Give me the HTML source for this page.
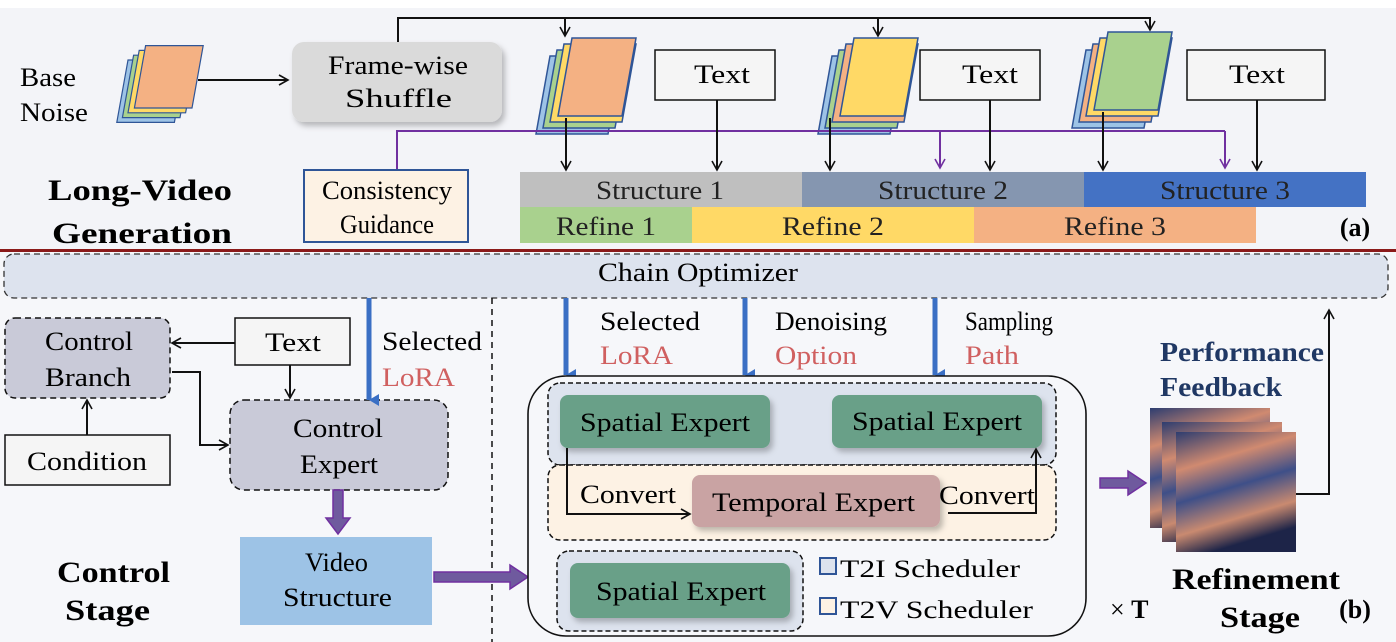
<!DOCTYPE html>
<html><head><meta charset="utf-8"><style>
html,body{margin:0;padding:0;background:#fff;}
svg{display:block;font-family:"Liberation Serif",serif;}
</style></head><body>
<svg width="1396" height="642" viewBox="0 0 1396 642" xmlns="http://www.w3.org/2000/svg">
<defs>
<marker id="ab" markerWidth="12" markerHeight="12" refX="10" refY="6" orient="auto" markerUnits="userSpaceOnUse"><path d="M1,1 L10,6 L1,11" fill="none" stroke="#111" stroke-width="1.6"/></marker>
<marker id="ap" markerWidth="12" markerHeight="12" refX="10" refY="6" orient="auto" markerUnits="userSpaceOnUse"><path d="M1,1 L10,6 L1,11" fill="none" stroke="#7030a0" stroke-width="1.6"/></marker>
<marker id="abl" markerWidth="14" markerHeight="14" refX="7" refY="12" orient="auto" markerUnits="userSpaceOnUse"><path d="M1,2 L7,12 L13,2 Z" fill="#3a6fc4"/></marker>
<filter id="sh" x="-10%" y="-10%" width="130%" height="140%"><feDropShadow dx="3" dy="4" stdDeviation="3" flood-color="#000" flood-opacity="0.25"/></filter>
<linearGradient id="sky" x1="0" y1="0" x2="0.3" y2="1">
<stop offset="0" stop-color="#2d3d70"/><stop offset="0.3" stop-color="#d08a70"/><stop offset="0.55" stop-color="#3e4f88"/><stop offset="0.8" stop-color="#c98a70"/><stop offset="1" stop-color="#1d2448"/></linearGradient>
<g id="stackA"><path d="M20,20 L92,20 L78,98 L6,98 Z" fill="#9dc3e6" stroke="#2f5597" stroke-width="1.5"/><path d="M27,14 L99,14 L85,92 L13,92 Z" fill="#a9d18e" stroke="#2f5597" stroke-width="1.5"/><path d="M34,8 L106,8 L92,86 L20,86 Z" fill="#ffd966" stroke="#2f5597" stroke-width="1.5"/></g>
</defs>

<rect x="0" y="8" width="1396" height="242" fill="#f3f4f8"/>
<rect x="0" y="252" width="1396" height="390" fill="#f6f7fa"/>

<text x="20" y="86" font-size="26" textLength="56" lengthAdjust="spacingAndGlyphs">Base</text>
<text x="20" y="121" font-size="26" textLength="68" lengthAdjust="spacingAndGlyphs">Noise</text>
<g transform="translate(112,44) scale(0.8)"><use href="#stackA"/><path d="M42,2 L114,2 L100,80 L28,80 Z" fill="#f4b183" stroke="#2f5597" stroke-width="1.5"/></g>
<line x1="198" y1="80" x2="288" y2="80" stroke="#111" stroke-width="2" marker-end="url(#ab)"/>
<rect x="292" y="42" width="210" height="80" rx="12" fill="#dadada" filter="url(#sh)"/>
<text x="328" y="74" font-size="26" textLength="140" lengthAdjust="spacingAndGlyphs">Frame-wise</text>
<text x="345" y="107" font-size="26" textLength="107" lengthAdjust="spacingAndGlyphs">Shuffle</text>

<line x1="398" y1="18" x2="398" y2="42" stroke="#111" stroke-width="2"/>
<line x1="397" y1="18" x2="1151" y2="18" stroke="#111" stroke-width="2"/>
<line x1="565" y1="18" x2="565" y2="36" stroke="#111" stroke-width="2" marker-end="url(#ab)"/>
<line x1="878" y1="18" x2="878" y2="36" stroke="#111" stroke-width="2" marker-end="url(#ab)"/>
<line x1="1150" y1="18" x2="1150" y2="30" stroke="#111" stroke-width="2" marker-end="url(#ab)"/>

<g transform="translate(530,36)"><use href="#stackA"/><path d="M42,2 L106,2 L92,80 L28,80 Z" fill="#f4b183" stroke="#2f5597" stroke-width="1.5"/></g>
<g transform="translate(812,36)"><path d="M20,20 L92,20 L78,98 L6,98 Z" fill="#9dc3e6" stroke="#2f5597" stroke-width="1.5"/><path d="M27,14 L99,14 L85,92 L13,92 Z" fill="#a9d18e" stroke="#2f5597" stroke-width="1.5"/><path d="M34,8 L106,8 L92,86 L20,86 Z" fill="#f4b183" stroke="#2f5597" stroke-width="1.5"/><path d="M42,2 L106,2 L92,80 L28,80 Z" fill="#ffd966" stroke="#2f5597" stroke-width="1.5"/></g>
<g transform="translate(1066,30)"><path d="M20,20 L92,20 L78,98 L6,98 Z" fill="#9dc3e6" stroke="#2f5597" stroke-width="1.5"/><path d="M27,14 L99,14 L85,92 L13,92 Z" fill="#f4b183" stroke="#2f5597" stroke-width="1.5"/><path d="M34,8 L106,8 L92,86 L20,86 Z" fill="#ffd966" stroke="#2f5597" stroke-width="1.5"/><path d="M42,2 L106,2 L92,80 L28,80 Z" fill="#a9d18e" stroke="#2f5597" stroke-width="1.5"/></g>

<rect x="655" y="50" width="120" height="50" fill="#f5f5f5" stroke="#111" stroke-width="1.5"/>
<text x="694" y="83" font-size="26" textLength="56" lengthAdjust="spacingAndGlyphs">Text</text>
<rect x="920" y="50" width="120" height="50" fill="#f5f5f5" stroke="#111" stroke-width="1.5"/>
<text x="962" y="83" font-size="26" textLength="56" lengthAdjust="spacingAndGlyphs">Text</text>
<rect x="1187" y="50" width="138" height="50" fill="#f5f5f5" stroke="#111" stroke-width="1.5"/>
<text x="1229" y="83" font-size="26" textLength="56" lengthAdjust="spacingAndGlyphs">Text</text>

<path d="M397,170 L397,131 L1225,131" fill="none" stroke="#7030a0" stroke-width="2"/>
<line x1="940" y1="131" x2="940" y2="168" stroke="#7030a0" stroke-width="2" marker-end="url(#ap)"/>
<line x1="1225" y1="131" x2="1225" y2="168" stroke="#7030a0" stroke-width="2" marker-end="url(#ap)"/>

<g stroke="#111" stroke-width="2">
<line x1="566" y1="118" x2="566" y2="170" marker-end="url(#ab)"/>
<line x1="717" y1="100" x2="717" y2="170" marker-end="url(#ab)"/>
<line x1="830" y1="118" x2="830" y2="170" marker-end="url(#ab)"/>
<line x1="990" y1="100" x2="990" y2="170" marker-end="url(#ab)"/>
<line x1="1103" y1="112" x2="1103" y2="170" marker-end="url(#ab)"/>
<line x1="1257" y1="100" x2="1257" y2="170" marker-end="url(#ab)"/>
</g>

<rect x="304" y="170" width="164" height="72" fill="#fdf2e4" stroke="#2f5597" stroke-width="2"/>
<text x="322" y="199" font-size="26" textLength="130" lengthAdjust="spacingAndGlyphs">Consistency</text>
<text x="340" y="233" font-size="26" textLength="94" lengthAdjust="spacingAndGlyphs">Guidance</text>

<rect x="520" y="172" width="282" height="35" fill="#bfbfbf"/>
<rect x="802" y="172" width="282" height="35" fill="#8596b0"/>
<rect x="1084" y="172" width="282" height="35" fill="#4472c4"/>
<text x="596" y="199" font-size="26" fill="#222" textLength="128" lengthAdjust="spacingAndGlyphs">Structure 1</text>
<text x="878" y="199" font-size="26" fill="#222" textLength="130" lengthAdjust="spacingAndGlyphs">Structure 2</text>
<text x="1160" y="199" font-size="26" fill="#222" textLength="130" lengthAdjust="spacingAndGlyphs">Structure 3</text>
<rect x="520" y="207" width="172" height="36" fill="#a9d18e"/>
<rect x="692" y="207" width="282" height="36" fill="#ffd966"/>
<rect x="974" y="207" width="282" height="36" fill="#f4b183"/>
<text x="556" y="235" font-size="26" fill="#222" textLength="100" lengthAdjust="spacingAndGlyphs">Refine 1</text>
<text x="782" y="235" font-size="26" fill="#222" textLength="102" lengthAdjust="spacingAndGlyphs">Refine 2</text>
<text x="1064" y="235" font-size="26" fill="#222" textLength="102" lengthAdjust="spacingAndGlyphs">Refine 3</text>
<text x="1355" y="236" font-size="26" font-weight="bold" text-anchor="middle">(a)</text>

<text x="48" y="200" font-size="30" font-weight="bold" textLength="184" lengthAdjust="spacingAndGlyphs">Long-Video</text>
<text x="52" y="243" font-size="30" font-weight="bold" textLength="180" lengthAdjust="spacingAndGlyphs">Generation</text>

<rect x="0" y="249" width="1396" height="3" fill="#8b1a1a"/>

<rect x="4" y="254" width="1384" height="44" rx="10" fill="#dde3ee" stroke="#333" stroke-width="1.3" stroke-dasharray="6,4"/>
<text x="598" y="281" font-size="26" textLength="200" lengthAdjust="spacingAndGlyphs">Chain Optimizer</text>
<line x1="492" y1="298" x2="492" y2="642" stroke="#111" stroke-width="1.5" stroke-dasharray="6,5"/>

<rect x="5" y="318" width="165" height="80" rx="10" fill="#c9cad8" stroke="#111" stroke-width="1.5" stroke-dasharray="6,4"/>
<text x="45" y="350" font-size="26" textLength="88" lengthAdjust="spacingAndGlyphs">Control</text>
<text x="45" y="386" font-size="26" textLength="86" lengthAdjust="spacingAndGlyphs">Branch</text>
<rect x="5" y="435" width="165" height="50" fill="#f5f5f5" stroke="#111" stroke-width="1.5"/>
<text x="27" y="470" font-size="26" textLength="120" lengthAdjust="spacingAndGlyphs">Condition</text>
<rect x="235" y="318" width="115" height="47" fill="#f5f5f5" stroke="#111" stroke-width="1.5"/>
<text x="265" y="351" font-size="26" textLength="56" lengthAdjust="spacingAndGlyphs">Text</text>
<rect x="230" y="400" width="218" height="90" rx="14" fill="#c9cad8" stroke="#111" stroke-width="1.5" stroke-dasharray="6,4"/>
<text x="293" y="437" font-size="26" textLength="90" lengthAdjust="spacingAndGlyphs">Control</text>
<text x="300" y="473" font-size="26" textLength="78" lengthAdjust="spacingAndGlyphs">Expert</text>
<g stroke="#111" stroke-width="2" fill="none">
<line x1="235" y1="343" x2="172" y2="343" marker-end="url(#ab)"/>
<line x1="290" y1="365" x2="290" y2="398" marker-end="url(#ab)"/>
<line x1="87" y1="435" x2="87" y2="400" marker-end="url(#ab)"/>
<path d="M172,372 L200,372 L200,445 L228,445" marker-end="url(#ab)"/>
</g>
<line x1="369" y1="298" x2="369" y2="400" stroke="#3a6fc4" stroke-width="5" marker-end="url(#abl)"/>
<text x="382" y="350" font-size="26" textLength="100" lengthAdjust="spacingAndGlyphs">Selected</text>
<text x="382" y="386" font-size="26" fill="#d06060" textLength="73" lengthAdjust="spacingAndGlyphs">LoRA</text>

<rect x="240" y="537" width="192" height="88" fill="#9dc3e6"/>
<text x="305" y="571" font-size="26" textLength="63" lengthAdjust="spacingAndGlyphs">Video</text>
<text x="283" y="606" font-size="26" textLength="109" lengthAdjust="spacingAndGlyphs">Structure</text>
<path d="M333,490 L343,490 L343,518 L350,518 L338,534 L326,518 L333,518 Z" fill="#6f5a9e" stroke="#7030a0" stroke-width="1.5"/>
<path d="M434,572 L510,572 L510,565 L528,577 L510,589 L510,582 L434,582 Z" fill="#6f5a9e" stroke="#7030a0" stroke-width="1.5"/>
<text x="57" y="582" font-size="30" font-weight="bold" textLength="113" lengthAdjust="spacingAndGlyphs">Control</text>
<text x="65" y="620" font-size="30" font-weight="bold" textLength="85" lengthAdjust="spacingAndGlyphs">Stage</text>

<g stroke="#3a6fc4" stroke-width="5">
<line x1="566" y1="298" x2="566" y2="375" marker-end="url(#abl)"/>
<line x1="745" y1="298" x2="745" y2="375" marker-end="url(#abl)"/>
<line x1="935" y1="298" x2="935" y2="375" marker-end="url(#abl)"/>
</g>
<text x="600" y="330" font-size="26" textLength="100" lengthAdjust="spacingAndGlyphs">Selected</text>
<text x="600" y="364" font-size="26" fill="#d06060" textLength="73" lengthAdjust="spacingAndGlyphs">LoRA</text>
<text x="775" y="330" font-size="26" textLength="112" lengthAdjust="spacingAndGlyphs">Denoising</text>
<text x="775" y="364" font-size="26" fill="#d06060" textLength="82" lengthAdjust="spacingAndGlyphs">Option</text>
<text x="965" y="330" font-size="26" textLength="88" lengthAdjust="spacingAndGlyphs">Sampling</text>
<text x="965" y="364" font-size="26" fill="#d06060" textLength="54" lengthAdjust="spacingAndGlyphs">Path</text>

<rect x="528" y="376" width="558" height="260" rx="38" fill="#f6f7fa" stroke="#111" stroke-width="1.6"/>
<rect x="548" y="383" width="508" height="82" rx="12" fill="#dde3ee" stroke="#111" stroke-width="1.5" stroke-dasharray="5,3"/>
<rect x="548" y="465" width="508" height="75" rx="12" fill="#fdf2e4" stroke="#111" stroke-width="1.5" stroke-dasharray="5,3"/>
<rect x="560" y="395" width="210" height="53" rx="8" fill="#69a088" filter="url(#sh)"/>
<text x="580" y="431" font-size="26" textLength="170" lengthAdjust="spacingAndGlyphs">Spatial Expert</text>
<rect x="832" y="395" width="210" height="53" rx="8" fill="#69a088" filter="url(#sh)"/>
<text x="852" y="430" font-size="26" textLength="170" lengthAdjust="spacingAndGlyphs">Spatial Expert</text>
<rect x="692" y="475" width="248" height="52" rx="8" fill="#c9a3a3" filter="url(#sh)"/>
<text x="712" y="511" font-size="26" textLength="203" lengthAdjust="spacingAndGlyphs">Temporal Expert</text>
<text x="580" y="503" font-size="26" textLength="96" lengthAdjust="spacingAndGlyphs">Convert</text>
<text x="939" y="504" font-size="26" textLength="96" lengthAdjust="spacingAndGlyphs">Convert</text>
<g stroke="#111" stroke-width="2" fill="none">
<path d="M567,448 L567,514 L690,514" marker-end="url(#ab)"/>
<path d="M948,513 L1036,513 L1036,449" marker-end="url(#ab)"/>
</g>
<rect x="557" y="551" width="246" height="80" rx="12" fill="#dde3ee" stroke="#111" stroke-width="1.5" stroke-dasharray="5,3"/>
<rect x="570" y="563" width="220" height="55" rx="8" fill="#69a088" filter="url(#sh)"/>
<text x="596" y="600" font-size="26" textLength="170" lengthAdjust="spacingAndGlyphs">Spatial Expert</text>
<rect x="820" y="558" width="16" height="16" fill="#dde3ee" stroke="#2f5597" stroke-width="2"/>
<text x="840" y="577" font-size="25" textLength="180" lengthAdjust="spacingAndGlyphs">T2I Scheduler</text>
<rect x="820" y="598" width="16" height="16" fill="#fdf2e4" stroke="#2f5597" stroke-width="2"/>
<text x="840" y="618" font-size="25" textLength="193" lengthAdjust="spacingAndGlyphs">T2V Scheduler</text>
<text x="1110" y="618" font-size="26">× <tspan font-weight="bold">T</tspan></text>

<path d="M1100,478 L1128,478 L1128,471 L1146,483 L1128,495 L1128,488 L1100,488 Z" fill="#6f5a9e" stroke="#7030a0" stroke-width="1.5"/>

<rect x="1150" y="408" width="120" height="120" fill="url(#sky)"/>
<rect x="1162" y="422" width="120" height="120" fill="url(#sky)"/>
<rect x="1176" y="432" width="120" height="120" fill="url(#sky)"/>
<path d="M1296,494 L1329,494 L1329,310" fill="none" stroke="#111" stroke-width="2" marker-end="url(#ab)"/>
<text x="1160" y="361" font-size="27" font-weight="bold" fill="#203864" textLength="164" lengthAdjust="spacingAndGlyphs">Performance</text>
<text x="1160" y="396" font-size="27" font-weight="bold" fill="#203864" textLength="122" lengthAdjust="spacingAndGlyphs">Feedback</text>
<text x="1172" y="589" font-size="30" font-weight="bold" textLength="168" lengthAdjust="spacingAndGlyphs">Refinement</text>
<text x="1220" y="627" font-size="30" font-weight="bold" textLength="80" lengthAdjust="spacingAndGlyphs">Stage</text>
<text x="1355" y="618" font-size="26" font-weight="bold" text-anchor="middle">(b)</text>
</svg>
</body></html>
